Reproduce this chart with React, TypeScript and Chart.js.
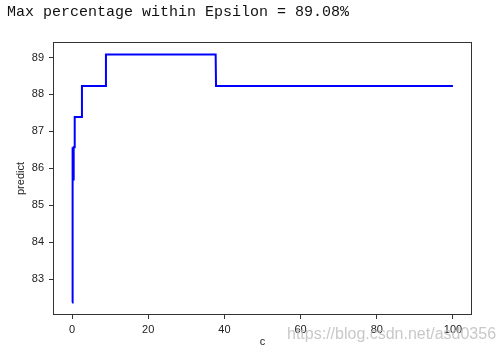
import React, { useEffect, useRef } from "react";
import { Chart, registerables } from "chart.js";

Chart.register(...registerables);

const titleText = "Max percentage within Epsilon = 89.08%";
const xLabel = "c";
const yLabel = "predict";
const watermark = "https://blog.csdn.net/asd0356";

const cValues = [0.0, 0.05, 0.1, 0.15, 0.2, 0.25, 0.3, 0.35, 0.4, 0.45, 0.5, 0.6, 0.7, 2.5, 2.6, 8.8, 8.9, 37.7, 37.8, 100];
const predictValues = [82.37, 86.57, 85.7, 86.57, 85.7, 86.57, 85.7, 86.57, 85.7, 86.57, 86.57, 86.57, 87.39, 87.39, 88.23, 88.23, 89.08, 89.08, 88.23, 88.23];

const xTicks = [0, 20, 40, 60, 80, 100];
const yTicks = [83, 84, 85, 86, 87, 88, 89];

export default function App() {
  const ref = useRef<HTMLCanvasElement | null>(null);

  useEffect(() => {
    if (!ref.current) return;
    const framePlugin = {
      id: "frame",
      afterDraw(chart: any) {
        const { ctx, chartArea } = chart;
        ctx.save();
        ctx.strokeStyle = "#333";
        ctx.lineWidth = 1;
        ctx.strokeRect(
          Math.round(chartArea.left) + 0.5,
          Math.round(chartArea.top) + 0.5,
          Math.round(chartArea.right - chartArea.left) - 1,
          Math.round(chartArea.bottom - chartArea.top) - 1
        );
        ctx.fillStyle = "#111";
        ctx.font = '15px "Liberation Mono"';
        ctx.textBaseline = "alphabetic";
        ctx.textAlign = "left";
        ctx.fillText(titleText, 7, 16);
        ctx.fillStyle = "rgba(190,190,190,0.85)";
        ctx.font = '16px "Liberation Sans"';
        ctx.fillText(watermark, 287, 339);
        ctx.restore();
      },
    };

    const chart = new Chart(ref.current, {
      type: "line",
      data: {
        datasets: [
          {
            data: cValues.map((c, i) => ({ x: c, y: predictValues[i] })),
            borderColor: "#0000ff",
            borderWidth: 2,
            pointRadius: 0,
            tension: 0,
            fill: false,
          },
        ],
      },
      options: {
        responsive: false,
        animation: false,
        layout: { padding: { top: 42, right: 31, left: 0, bottom: 0 } },
        plugins: { legend: { display: false }, tooltip: { enabled: false }, title: { display: false } },
        scales: {
          x: {
            type: "linear",
            min: -5,
            max: 105,
            afterBuildTicks: (s: any) => {
              s.ticks = xTicks.map((v) => ({ value: v }));
            },
            afterFit: (s: any) => {
              s.height = 38;
            },
            grid: { display: true, drawOnChartArea: false, drawTicks: true, tickLength: 4, color: "#333" },
            border: { display: false },
            ticks: { color: "#222", font: { family: "Liberation Sans", size: 11 }, padding: 4, maxRotation: 0 },
            title: { display: true, text: xLabel, color: "#222", font: { family: "Liberation Sans", size: 11 }, padding: { top: 0, bottom: 4 } },
          },
          y: {
            type: "linear",
            min: 82.03,
            max: 89.42,
            afterBuildTicks: (s: any) => {
              s.ticks = yTicks.map((v) => ({ value: v }));
            },
            afterFit: (s: any) => {
              s.width = 53;
            },
            grid: { display: true, drawOnChartArea: false, drawTicks: true, tickLength: 4, color: "#333" },
            border: { display: false },
            ticks: { color: "#222", font: { family: "Liberation Sans", size: 11 }, padding: 5 },
            title: { display: true, text: yLabel, color: "#222", font: { family: "Liberation Sans", size: 11 }, padding: { top: 14, bottom: 0 } },
          },
        },
      },
      plugins: [framePlugin],
    });
    return () => chart.destroy();
  }, []);

  return (
    <div style={{ position: "fixed", left: 0, top: 0, width: 503, height: 353, background: "#fff" }}>
      <canvas ref={ref} width={503} height={353} style={{ display: "block" }} />
    </div>
  );
}
